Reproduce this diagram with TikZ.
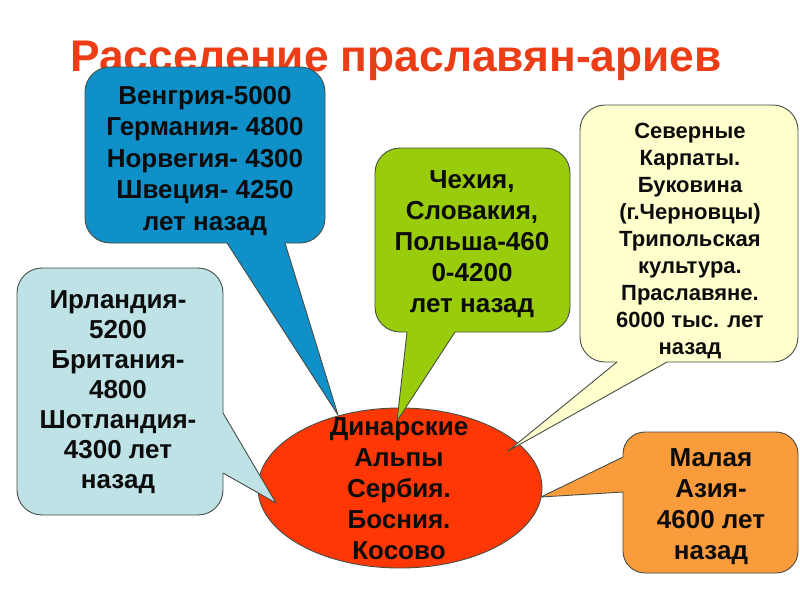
\documentclass[tikz,border=0pt]{standalone}
\usepackage{fontspec}
\setmainfont{Liberation Sans}
\usetikzlibrary{shapes.geometric}
\definecolor{edgecol}{RGB}{70,78,70}
\definecolor{textcol}{RGB}{12,12,12}
\definecolor{titlecol}{RGB}{236,62,22}
\definecolor{bluec}{RGB}{16,144,200}
\definecolor{lightbluec}{RGB}{190,226,230}
\definecolor{greenc}{RGB}{153,204,10}
\definecolor{creamc}{RGB}{255,255,206}
\definecolor{orangec}{RGB}{250,155,60}
\definecolor{redc}{RGB}{255,55,5}
\begin{document}
\begin{tikzpicture}[x=1pt,y=-1pt,
  edge/.style={draw=edgecol, line width=0.9pt, line join=round},
  txt/.style={font=\bfseries\fontsize{26pt}{31pt}\selectfont, align=center, text=textcol, inner sep=0pt},
  titletxt/.style={font=\bfseries\fontsize{44.3pt}{50pt}\selectfont, text=titlecol, inner sep=0pt}]
\useasboundingbox (0,0) rectangle (800,600);
\fill[white] (0,0) rectangle (800,600);
% title
\node[titletxt, anchor=base] (title) at (396,71) {Расселение праславян-ариев};
% central ellipse
\node[ellipse, draw=edgecol, line width=0.9pt, fill=redc, minimum width=284pt, minimum height=160pt, inner sep=0pt] (ell) at (400,488) {};
% tail tips
\coordinate (tipBlue) at (338,415);
\coordinate (tipLight) at (276,503);
\coordinate (tipGreen) at (397,421);
\coordinate (tipCream) at (508,451);
\coordinate (tipOrange) at (541,497);
% blue callout
\fill[bluec] (227,243) -- (tipBlue) -- (285,243) -- (285,235) -- (227,235) -- cycle;
\fill[bluec, rounded corners=25pt] (85,67) rectangle (325,243);
\draw[edge, rounded corners=25pt] (285,243) -- (325,243) -- (325,67) -- (85,67) -- (85,243) -- (227,243);
\draw[edge] (227,243) -- (tipBlue) -- (285,243);
% light blue callout
\fill[lightbluec] (223,413) -- (tipLight) -- (223,473) -- (215,473) -- (215,413) -- cycle;
\fill[lightbluec, rounded corners=25pt] (17,268) rectangle (223,515);
\draw[edge, rounded corners=25pt] (223,473) -- (223,515) -- (17,515) -- (17,268) -- (223,268) -- (223,413);
\draw[edge] (223,413) -- (tipLight) -- (223,473);
% green callout
\fill[greenc] (407,332) -- (tipGreen) -- (455,332) -- (455,325) -- (407,325) -- cycle;
\fill[greenc, rounded corners=25pt] (375,148) rectangle (570,332);
\draw[edge, rounded corners=25pt] (455,332) -- (570,332) -- (570,148) -- (375,148) -- (375,332) -- (407,332);
\draw[edge] (407,332) -- (tipGreen) -- (455,332);
% cream callout
\fill[creamc] (617,362) -- (tipCream) -- (667,362) -- (667,355) -- (617,355) -- cycle;
\fill[creamc, rounded corners=25pt] (580,105) rectangle (798,362);
\draw[edge, rounded corners=25pt] (667,362) -- (798,362) -- (798,105) -- (580,105) -- (580,362) -- (617,362);
\draw[edge] (617,362) -- (tipCream) -- (667,362);
% orange callout
\fill[orangec] (623,457) -- (tipOrange) -- (623,492) -- (630,492) -- (630,457) -- cycle;
\fill[orangec, rounded corners=22pt] (623,432) rectangle (798,573);
\draw[edge, rounded corners=22pt] (623,492) -- (623,573) -- (798,573) -- (798,432) -- (623,432) -- (623,457);
\draw[edge] (623,457) -- (tipOrange) -- (623,492);
% texts
\node[txt, font=\bfseries\fontsize{26pt}{31.5pt}\selectfont] (blueT) at (205,161) {Венгрия-5000\\Германия- 4800\\Норвегия- 4300\\Швеция- 4250\\лет назад};
\node[txt, font=\bfseries\fontsize{26pt}{30pt}\selectfont] (lightT) at (118,392) {Ирландия-\\5200\\Британия-\\4800\\Шотландия-\\4300 лет\\назад};
\node[txt] (greenT) at (472,244) {Чехия,\\Словакия,\\Польша-460\\0-4200\\лет назад};
\node[txt, font=\bfseries\fontsize{22pt}{27pt}\selectfont] (creamT) at (690,241) {Северные\\Карпаты.\\Буковина\\(г.Черновцы)\\Трипольская\\культура.\\Праславяне.\\6000 тыс. лет\\назад};
\node[txt] (orangeT) at (711,507) {Малая\\Азия-\\4600 лет\\назад};
\node[txt] (ellT) at (399,489) {Динарские\\Альпы\\Сербия.\\Босния.\\Косово};
\end{tikzpicture}
\end{document}
